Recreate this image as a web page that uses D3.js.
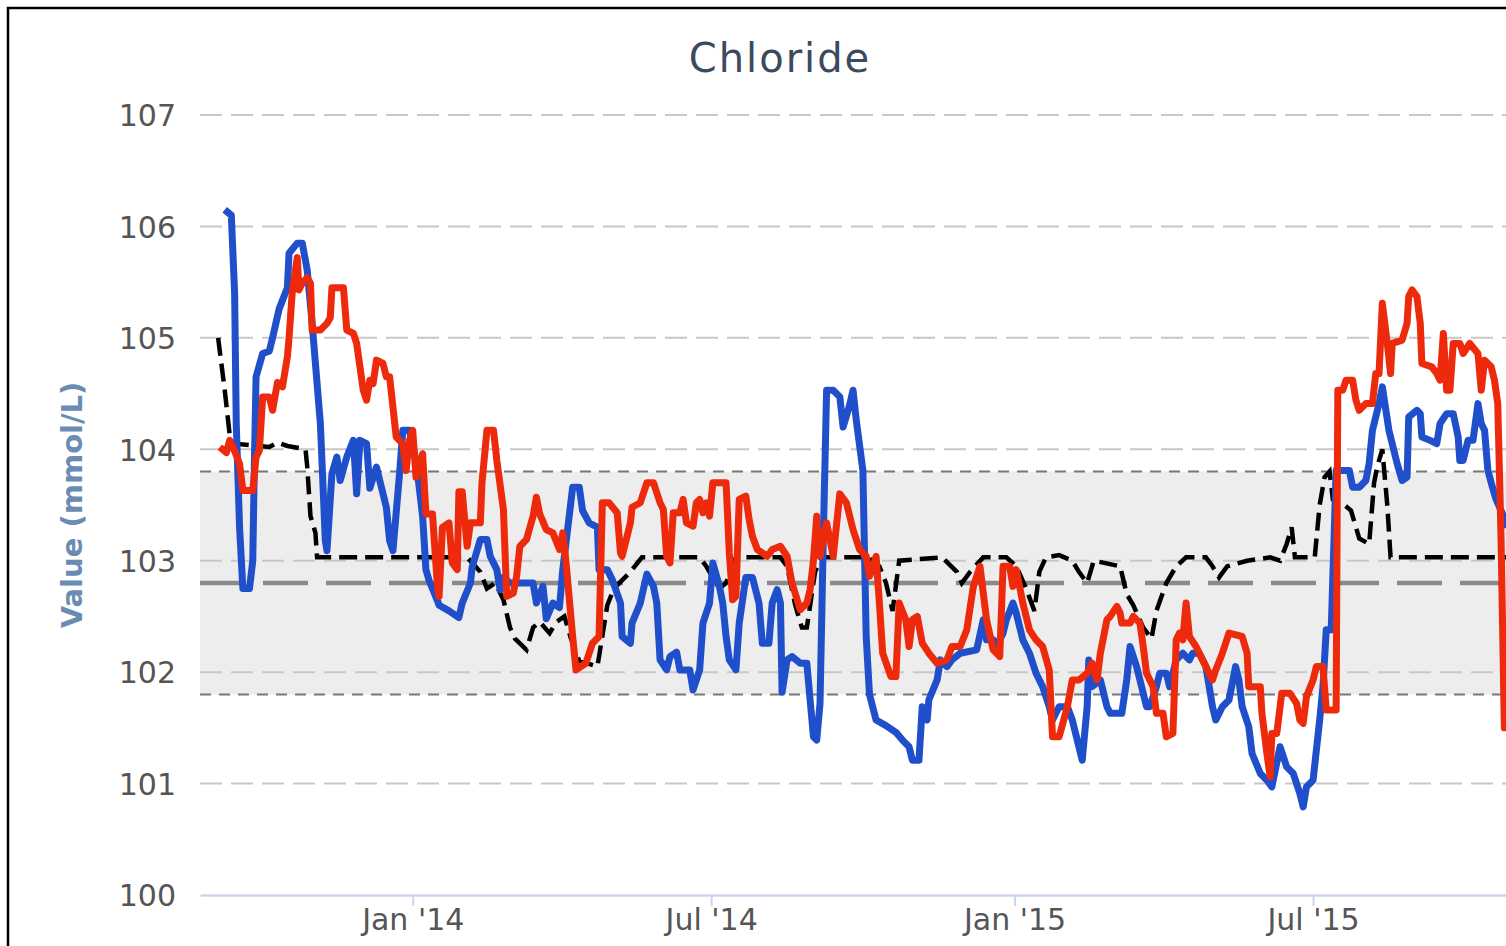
<!DOCTYPE html>
<html>
<head>
<meta charset="utf-8">
<script src="https://cdn.jsdelivr.net/npm/d3@7"></script>
<style>
  html, body { margin: 0; padding: 0; background: #fff; }
  svg { display: block; }
  text { font-family: "DejaVu Sans", Verdana, sans-serif; }
</style>
</head>
<body>
<div id="chart"></div>
<script>
// Chloride readings
const chartTitle = "Chloride";
const yAxisTitle = "Value (mmol/L)";
const yTicks = [100, 101, 102, 103, 104, 105, 106, 107];
const xTicks = ["2014-01-01", "2014-07-01", "2015-01-01", "2015-07-01"];
const xDomain = ["2013-08-25", "2015-10-26"];

// normal range and its middle
const refLow = 101.8;
const refHigh = 103.8;
const refMid = 102.8;

// dashed black series
const refSeries = [
  ["2013-09-05",105.0],["2013-09-09",104.53],["2013-09-12",104.13],["2013-09-15",104.05],["2013-10-06",104.02],
  ["2013-10-11",104.06],["2013-10-17",104.03],["2013-10-28",104.0],["2013-10-29",103.85],["2013-10-31",103.4],
  ["2013-11-03",103.25],["2013-11-04",103.03],["2014-02-03",103.03],["2014-02-11",102.9],["2014-02-15",102.75],
  ["2014-02-20",102.8],["2014-02-25",102.65],["2014-03-01",102.4],["2014-03-04",102.3],["2014-03-11",102.2],
  ["2014-03-15",102.4],["2014-03-19",102.45],["2014-03-25",102.35],["2014-03-29",102.45],["2014-04-03",102.5],
  ["2014-04-07",102.3],["2014-04-12",102.1],["2014-04-23",102.05],["2014-04-29",102.6],["2014-05-03",102.75],
  ["2014-05-13",102.9],["2014-05-20",103.03],["2014-06-24",103.03],["2014-06-28",102.95],["2014-07-06",102.75],
  ["2014-07-10",102.8],["2014-07-16",103.03],["2014-08-12",103.03],["2014-08-16",102.95],["2014-08-21",102.6],
  ["2014-08-25",102.4],["2014-08-28",102.4],["2014-09-02",102.9],["2014-09-06",103.03],["2014-10-04",103.03],
  ["2014-10-11",102.95],["2014-10-15",102.8],["2014-10-19",102.55],["2014-10-23",103.0],["2014-11-18",103.03],
  ["2014-11-27",102.9],["2014-11-30",102.8],["2014-12-05",102.9],["2014-12-13",103.03],["2014-12-27",103.03],
  ["2015-01-02",102.95],["2015-01-08",102.75],["2015-01-13",102.55],["2015-01-16",102.9],["2015-01-20",103.03],
  ["2015-01-28",103.05],["2015-02-05",103.0],["2015-02-09",102.9],["2015-02-14",102.8],["2015-02-18",103.0],
  ["2015-03-06",102.95],["2015-03-10",102.7],["2015-03-14",102.6],["2015-03-20",102.4],["2015-03-25",102.3],
  ["2015-03-28",102.55],["2015-04-03",102.8],["2015-04-09",102.95],["2015-04-15",103.03],["2015-04-27",103.03],
  ["2015-05-01",102.95],["2015-05-05",102.85],["2015-05-10",102.95],["2015-05-22",103.0],["2015-06-05",103.03],
  ["2015-06-11",103.0],["2015-06-15",103.15],["2015-06-18",103.3],["2015-06-20",103.03],["2015-07-02",103.03],
  ["2015-07-05",103.5],["2015-07-08",103.75],["2015-07-11",103.8],["2015-07-13",103.55],["2015-07-20",103.5],
  ["2015-07-24",103.45],["2015-07-29",103.2],["2015-08-04",103.15],["2015-08-07",103.7],["2015-08-09",103.85],
  ["2015-08-12",104.0],["2015-08-15",103.5],["2015-08-17",103.03],["2015-10-28",103.03]
];

// blue series
const blueSeries = [
  ["2013-09-09",106.15],["2013-09-13",106.1],["2013-09-15",105.4],["2013-09-16",104.22],["2013-09-18",103.3],
  ["2013-09-20",102.75],["2013-09-24",102.75],["2013-09-26",103.0],["2013-09-27",103.9],["2013-09-28",104.65],
  ["2013-10-02",104.86],["2013-10-06",104.88],["2013-10-08",105.0],["2013-10-12",105.26],["2013-10-17",105.45],
  ["2013-10-18",105.76],["2013-10-23",105.85],["2013-10-26",105.85],["2013-10-29",105.61],["2013-11-01",105.13],
  ["2013-11-06",104.23],["2013-11-09",103.18],["2013-11-10",103.09],["2013-11-13",103.78],["2013-11-16",103.93],
  ["2013-11-18",103.72],["2013-11-22",103.93],["2013-11-26",104.08],["2013-11-28",103.6],["2013-11-30",104.08],
  ["2013-12-04",104.05],["2013-12-06",103.65],["2013-12-10",103.84],["2013-12-16",103.48],["2013-12-18",103.18],
  ["2013-12-20",103.09],["2013-12-24",103.78],["2013-12-26",104.17],["2013-12-30",104.17],["2014-01-03",103.9],
  ["2014-01-07",103.4],["2014-01-09",102.92],["2014-01-11",102.82],["2014-01-16",102.64],["2014-01-17",102.6],
  ["2014-01-23",102.55],["2014-01-29",102.49],["2014-01-31",102.62],["2014-02-05",102.8],["2014-02-06",102.94],
  ["2014-02-11",103.19],["2014-02-15",103.19],["2014-02-17",103.04],["2014-02-21",102.92],["2014-02-23",102.74],
  ["2014-02-25",102.85],["2014-03-01",102.8],["2014-03-15",102.8],["2014-03-17",102.62],["2014-03-21",102.77],
  ["2014-03-23",102.48],["2014-03-27",102.62],["2014-03-31",102.58],["2014-04-02",102.92],["2014-04-08",103.66],
  ["2014-04-12",103.66],["2014-04-14",103.45],["2014-04-18",103.34],["2014-04-23",103.3],["2014-04-24",102.92],
  ["2014-04-29",102.92],["2014-05-02",102.83],["2014-05-07",102.62],["2014-05-08",102.32],["2014-05-13",102.26],
  ["2014-05-14",102.44],["2014-05-19",102.62],["2014-05-23",102.88],["2014-05-27",102.77],["2014-05-29",102.62],
  ["2014-05-31",102.11],["2014-06-04",102.02],["2014-06-06",102.14],["2014-06-10",102.18],["2014-06-12",102.02],
  ["2014-06-18",102.02],["2014-06-20",101.84],["2014-06-24",102.02],["2014-06-26",102.44],["2014-06-30",102.62],
  ["2014-07-02",102.98],["2014-07-06",102.77],["2014-07-08",102.62],["2014-07-10",102.32],["2014-07-12",102.11],
  ["2014-07-16",102.02],["2014-07-18",102.44],["2014-07-22",102.85],["2014-07-26",102.85],["2014-07-30",102.62],
  ["2014-08-01",102.26],["2014-08-05",102.26],["2014-08-07",102.62],["2014-08-10",102.74],["2014-08-12",102.62],
  ["2014-08-13",101.82],["2014-08-16",102.11],["2014-08-19",102.14],["2014-08-24",102.08],["2014-08-28",102.08],
  ["2014-09-01",101.42],["2014-09-03",101.39],["2014-09-05",101.72],["2014-09-07",103.21],["2014-09-09",104.53],
  ["2014-09-13",104.53],["2014-09-17",104.47],["2014-09-19",104.2],["2014-09-23",104.4],["2014-09-25",104.53],
  ["2014-09-27",104.26],["2014-10-01",103.81],["2014-10-03",102.32],["2014-10-05",101.8],["2014-10-09",101.57],
  ["2014-10-15",101.52],["2014-10-21",101.46],["2014-10-25",101.39],["2014-10-29",101.33],["2014-10-31",101.21],
  ["2014-11-04",101.21],["2014-11-06",101.69],["2014-11-09",101.57],["2014-11-10",101.75],["2014-11-15",101.93],
  ["2014-11-17",102.11],["2014-11-21",102.05],["2014-11-24",102.11],["2014-11-29",102.17],["2014-12-09",102.2],
  ["2014-12-13",102.47],["2014-12-15",102.29],["2014-12-19",102.29],["2014-12-21",102.23],["2014-12-25",102.35],
  ["2014-12-27",102.47],["2014-12-31",102.62],["2015-01-02",102.53],["2015-01-06",102.29],["2015-01-10",102.17],
  ["2015-01-14",101.99],["2015-01-18",101.87],["2015-01-22",101.69],["2015-01-24",101.57],["2015-01-28",101.69],
  ["2015-02-02",101.69],["2015-02-05",101.57],["2015-02-09",101.33],["2015-02-11",101.21],["2015-02-14",101.69],
  ["2015-02-15",102.11],["2015-02-17",101.87],["2015-02-22",101.93],["2015-02-26",101.69],["2015-02-28",101.63],
  ["2015-03-07",101.63],["2015-03-10",101.93],["2015-03-12",102.23],["2015-03-16",102.05],["2015-03-20",101.81],
  ["2015-03-22",101.69],["2015-03-24",101.69],["2015-03-28",101.87],["2015-03-30",101.99],["2015-04-03",101.99],
  ["2015-04-05",101.87],["2015-04-09",102.11],["2015-04-13",102.17],["2015-04-17",102.11],["2015-04-19",102.17],
  ["2015-04-23",102.17],["2015-04-27",102.05],["2015-05-01",101.69],["2015-05-03",101.57],["2015-05-07",101.69],
  ["2015-05-11",101.75],["2015-05-15",102.05],["2015-05-17",101.93],["2015-05-19",101.69],["2015-05-23",101.51],
  ["2015-05-25",101.27],["2015-05-30",101.09],["2015-06-03",101.03],["2015-06-06",100.97],["2015-06-11",101.33],
  ["2015-06-15",101.15],["2015-06-19",101.09],["2015-06-23",100.91],["2015-06-25",100.79],["2015-06-27",100.97],
  ["2015-07-01",101.03],["2015-07-05",101.57],["2015-07-07",101.87],["2015-07-09",102.38],["2015-07-12",102.38],
  ["2015-07-15",103.81],["2015-07-19",103.81],["2015-07-23",103.81],["2015-07-25",103.66],["2015-07-29",103.66],
  ["2015-08-02",103.72],["2015-08-04",103.87],["2015-08-06",104.17],["2015-08-10",104.41],["2015-08-12",104.56],
  ["2015-08-16",104.17],["2015-08-21",103.87],["2015-08-24",103.72],["2015-08-27",103.75],["2015-08-28",104.29],
  ["2015-09-02",104.35],["2015-09-04",104.32],["2015-09-05",104.11],["2015-09-10",104.08],["2015-09-14",104.05],
  ["2015-09-16",104.23],["2015-09-20",104.32],["2015-09-24",104.32],["2015-09-27",104.11],["2015-09-28",103.9],
  ["2015-09-30",103.9],["2015-10-03",104.08],["2015-10-06",104.08],["2015-10-09",104.41],["2015-10-11",104.23],
  ["2015-10-13",104.17],["2015-10-15",103.81],["2015-10-17",103.7],["2015-10-20",103.55],["2015-10-23",103.45],
  ["2015-10-27",103.3]
];

// red series
const redSeries = [
  ["2013-09-06",104.02],["2013-09-10",103.97],["2013-09-12",104.08],["2013-09-14",104.02],["2013-09-18",103.87],
  ["2013-09-20",103.63],["2013-09-26",103.63],["2013-09-28",103.93],["2013-09-30",103.99],["2013-10-02",104.47],
  ["2013-10-06",104.47],["2013-10-08",104.35],["2013-10-11",104.6],["2013-10-14",104.56],["2013-10-17",104.83],
  ["2013-10-18",105.0],["2013-10-20",105.42],["2013-10-23",105.72],["2013-10-24",105.43],["2013-10-26",105.49],
  ["2013-10-29",105.54],["2013-10-31",105.49],["2013-11-01",105.07],["2013-11-06",105.07],["2013-11-10",105.13],
  ["2013-11-12",105.18],["2013-11-13",105.45],["2013-11-20",105.45],["2013-11-22",105.07],["2013-11-26",105.04],
  ["2013-11-28",104.95],["2013-12-02",104.53],["2013-12-04",104.44],["2013-12-06",104.62],["2013-12-08",104.59],
  ["2013-12-10",104.8],["2013-12-14",104.77],["2013-12-16",104.65],["2013-12-18",104.65],["2013-12-22",104.11],
  ["2013-12-26",104.05],["2013-12-28",103.81],["2013-12-30",104.08],["2014-01-01",104.17],["2014-01-03",103.75],
  ["2014-01-07",103.96],["2014-01-09",103.42],["2014-01-13",103.42],["2014-01-16",102.77],["2014-01-17",102.68],
  ["2014-01-19",103.3],["2014-01-23",103.34],["2014-01-25",102.98],["2014-01-28",102.92],["2014-01-29",103.62],
  ["2014-01-31",103.62],["2014-02-03",103.13],["2014-02-05",103.34],["2014-02-11",103.34],["2014-02-12",103.7],
  ["2014-02-15",104.17],["2014-02-19",104.17],["2014-02-21",103.9],["2014-02-25",103.46],["2014-02-27",102.68],
  ["2014-03-03",102.71],["2014-03-05",102.86],["2014-03-07",103.13],["2014-03-11",103.19],["2014-03-15",103.4],
  ["2014-03-17",103.57],["2014-03-19",103.42],["2014-03-23",103.28],["2014-03-27",103.25],["2014-03-31",103.1],
  ["2014-04-02",103.25],["2014-04-04",102.98],["2014-04-08",102.32],["2014-04-10",102.02],["2014-04-16",102.08],
  ["2014-04-20",102.26],["2014-04-24",102.32],["2014-04-26",103.52],["2014-04-30",103.52],["2014-05-05",103.43],
  ["2014-05-07",103.07],["2014-05-08",103.04],["2014-05-13",103.34],["2014-05-14",103.48],["2014-05-19",103.52],
  ["2014-05-23",103.7],["2014-05-27",103.7],["2014-05-31",103.52],["2014-06-02",103.46],["2014-06-04",103.04],
  ["2014-06-06",102.98],["2014-06-08",103.43],["2014-06-12",103.43],["2014-06-14",103.55],["2014-06-16",103.34],
  ["2014-06-20",103.31],["2014-06-22",103.52],["2014-06-24",103.55],["2014-06-26",103.43],["2014-06-28",103.52],
  ["2014-06-30",103.4],["2014-07-02",103.7],["2014-07-10",103.7],["2014-07-12",103.07],["2014-07-14",102.65],
  ["2014-07-16",102.68],["2014-07-18",103.55],["2014-07-22",103.58],["2014-07-24",103.37],["2014-07-26",103.22],
  ["2014-07-29",103.1],["2014-08-04",103.04],["2014-08-07",103.1],["2014-08-12",103.13],["2014-08-16",103.04],
  ["2014-08-19",102.8],["2014-08-24",102.56],["2014-08-28",102.62],["2014-08-30",102.74],["2014-09-01",103.0],
  ["2014-09-03",103.4],["2014-09-05",103.04],["2014-09-09",103.34],["2014-09-13",103.04],["2014-09-17",103.6],
  ["2014-09-21",103.52],["2014-09-25",103.28],["2014-09-29",103.1],["2014-10-03",103.04],["2014-10-05",102.86],
  ["2014-10-09",103.04],["2014-10-11",102.62],["2014-10-13",102.17],["2014-10-18",101.96],["2014-10-21",101.96],
  ["2014-10-23",102.62],["2014-10-27",102.47],["2014-10-29",102.23],["2014-10-31",102.47],["2014-11-03",102.5],
  ["2014-11-06",102.26],["2014-11-10",102.17],["2014-11-15",102.08],["2014-11-21",102.11],["2014-11-24",102.23],
  ["2014-11-29",102.23],["2014-12-03",102.38],["2014-12-07",102.77],["2014-12-11",102.95],["2014-12-15",102.47],
  ["2014-12-19",102.2],["2014-12-23",102.14],["2014-12-25",102.95],["2014-12-29",102.95],["2014-12-31",102.77],
  ["2015-01-02",102.92],["2015-01-06",102.62],["2015-01-10",102.38],["2015-01-14",102.29],["2015-01-18",102.23],
  ["2015-01-22",102.02],["2015-01-24",101.42],["2015-01-28",101.42],["2015-02-02",101.69],["2015-02-05",101.93],
  ["2015-02-09",101.93],["2015-02-14",101.99],["2015-02-17",102.08],["2015-02-20",101.93],["2015-02-22",102.17],
  ["2015-02-26",102.47],["2015-02-28",102.5],["2015-03-04",102.59],["2015-03-06",102.53],["2015-03-07",102.44],
  ["2015-03-12",102.44],["2015-03-14",102.5],["2015-03-18",102.44],["2015-03-20",102.23],["2015-03-22",101.99],
  ["2015-03-26",101.87],["2015-03-28",101.63],["2015-04-01",101.63],["2015-04-03",101.42],["2015-04-07",101.45],
  ["2015-04-09",102.29],["2015-04-11",102.35],["2015-04-13",102.29],["2015-04-15",102.62],["2015-04-17",102.32],
  ["2015-04-21",102.23],["2015-04-25",102.11],["2015-05-01",101.93],["2015-05-03",102.02],["2015-05-07",102.17],
  ["2015-05-11",102.35],["2015-05-19",102.32],["2015-05-22",102.17],["2015-05-23",101.87],["2015-05-30",101.87],
  ["2015-05-31",101.63],["2015-06-03",101.27],["2015-06-05",101.06],["2015-06-06",101.45],["2015-06-09",101.45],
  ["2015-06-11",101.69],["2015-06-12",101.81],["2015-06-17",101.81],["2015-06-21",101.72],["2015-06-23",101.57],
  ["2015-06-25",101.54],["2015-06-27",101.78],["2015-07-01",101.93],["2015-07-03",102.05],["2015-07-07",102.05],
  ["2015-07-09",101.66],["2015-07-15",101.66],["2015-07-16",104.53],["2015-07-19",104.53],["2015-07-21",104.62],
  ["2015-07-25",104.62],["2015-07-27",104.44],["2015-07-29",104.35],["2015-08-02",104.41],["2015-08-06",104.41],
  ["2015-08-08",104.68],["2015-08-10",104.68],["2015-08-12",105.31],["2015-08-15",104.95],["2015-08-17",104.68],
  ["2015-08-18",104.95],["2015-08-24",104.98],["2015-08-27",105.13],["2015-08-28",105.37],["2015-08-30",105.43],
  ["2015-09-02",105.37],["2015-09-04",105.13],["2015-09-05",104.77],["2015-09-11",104.74],["2015-09-14",104.68],
  ["2015-09-16",104.62],["2015-09-18",105.04],["2015-09-20",104.53],["2015-09-22",104.53],["2015-09-24",104.95],
  ["2015-09-28",104.95],["2015-09-30",104.86],["2015-10-04",104.95],["2015-10-09",104.86],["2015-10-11",104.53],
  ["2015-10-13",104.8],["2015-10-17",104.74],["2015-10-19",104.62],["2015-10-21",104.41],["2015-10-23",103.2],
  ["2015-10-25",101.5],["2015-10-28",101.5]
];

const width = 1506, height = 946;
const plot = { left: 200, right: 1506, top: 115, bottom: 895 };
const parse = d3.utcParse("%Y-%m-%d");

const svg = d3.select("#chart").append("svg")
  .attr("width", width)
  .attr("height", height);

// outer frame, runs off the right and bottom edge
svg.append("rect")
  .attr("x", 8).attr("y", 8)
  .attr("width", 1600).attr("height", 1000)
  .attr("fill", "#fff")
  .attr("stroke", "#000")
  .attr("stroke-width", 2.5);

const x = d3.scaleUtc()
  .domain(xDomain.map(parse))
  .range([plot.left, plot.right]);

const y = d3.scaleLinear()
  .domain([100, 107])
  .range([plot.bottom, plot.top]);

svg.append("defs").append("clipPath").attr("id", "plot-clip")
  .append("rect")
  .attr("x", plot.left).attr("y", plot.top - 20)
  .attr("width", plot.right - plot.left)
  .attr("height", plot.bottom - plot.top + 20);

// normal range band
svg.append("rect")
  .attr("x", plot.left)
  .attr("y", y(refHigh))
  .attr("width", plot.right - plot.left)
  .attr("height", y(refLow) - y(refHigh))
  .attr("fill", "#ededed");

// grid lines
svg.append("g")
  .selectAll("line")
  .data(yTicks.filter(d => d > 100))
  .join("line")
  .attr("x1", plot.left).attr("x2", plot.right)
  .attr("y1", d => y(d)).attr("y2", d => y(d))
  .attr("stroke", "#c8c8c8")
  .attr("stroke-width", 2)
  .attr("stroke-dasharray", "22,9");

// band edges
svg.append("g")
  .selectAll("line")
  .data([refLow, refHigh])
  .join("line")
  .attr("x1", plot.left).attr("x2", plot.right)
  .attr("y1", d => y(d)).attr("y2", d => y(d))
  .attr("stroke", "#777")
  .attr("stroke-width", 2)
  .attr("stroke-dasharray", "11,8");

// middle of the range
svg.append("line")
  .attr("x1", plot.left).attr("x2", plot.right)
  .attr("y1", y(refMid)).attr("y2", y(refMid))
  .attr("stroke", "#8a8a8a")
  .attr("stroke-width", 4.5)
  .attr("stroke-dasharray", "45,18");

// x axis
const xAxis = svg.append("g")
  .attr("transform", `translate(0,${plot.bottom})`)
  .call(d3.axisBottom(x)
    .tickValues(xTicks.map(parse))
    .tickFormat(d3.utcFormat("%b '%y"))
    .tickSize(11)
    .tickSizeOuter(0)
    .tickPadding(3));
xAxis.select(".domain").attr("stroke", "#ccd6eb").attr("stroke-width", 2.5);
xAxis.selectAll(".tick line").attr("stroke", "#ccd6eb").attr("stroke-width", 2);
xAxis.selectAll(".tick text")
  .attr("fill", "#555")
  .style("font-size", "30px")
  .style("font-family", "'DejaVu Sans', Verdana, sans-serif");

// y axis labels
const yAxis = svg.append("g")
  .attr("transform", `translate(${plot.left},0)`)
  .call(d3.axisLeft(y)
    .tickValues(yTicks)
    .tickFormat(d3.format("d"))
    .tickSize(0)
    .tickPadding(24));
yAxis.select(".domain").remove();
yAxis.selectAll(".tick text")
  .attr("fill", "#555")
  .attr("dy", "0.36em")
  .style("font-size", "30px")
  .style("font-family", "'DejaVu Sans', Verdana, sans-serif");

// series
const line = d3.line()
  .x(d => x(parse(d[0])))
  .y(d => y(d[1]));

const lines = svg.append("g").attr("clip-path", "url(#plot-clip)");

lines.append("path")
  .datum(refSeries)
  .attr("d", line)
  .attr("fill", "none")
  .attr("stroke", "#000")
  .attr("stroke-width", 4.5)
  .attr("stroke-dasharray", "18,8");

lines.append("path")
  .datum(blueSeries)
  .attr("d", line)
  .attr("fill", "none")
  .attr("stroke", "#1f4fca")
  .attr("stroke-width", 7)
  .attr("stroke-linejoin", "round");

lines.append("path")
  .datum(redSeries)
  .attr("d", line)
  .attr("fill", "none")
  .attr("stroke", "#ee2a0c")
  .attr("stroke-width", 7)
  .attr("stroke-linejoin", "round");

// titles
svg.append("text")
  .attr("x", 780)
  .attr("y", 72)
  .attr("text-anchor", "middle")
  .attr("fill", "#3b4a5e")
  .style("font-size", "40px")
  .style("letter-spacing", "2px")
  .text(chartTitle);

svg.append("text")
  .attr("transform", `translate(82,${(plot.top + plot.bottom) / 2}) rotate(-90)`)
  .attr("text-anchor", "middle")
  .attr("fill", "#6a8cb4")
  .style("font-size", "29px")
  .style("font-weight", "bold")
  .text(yAxisTitle);
</script>
</body>
</html>
